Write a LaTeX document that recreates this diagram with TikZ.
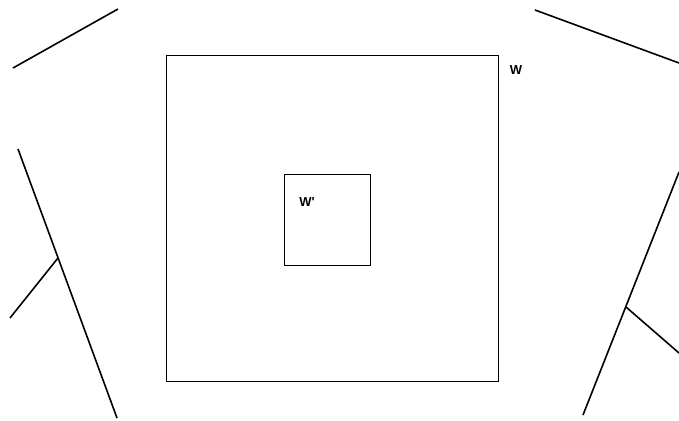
\documentclass[tikz,border=0pt]{standalone}
\usepackage{fontspec}
\setmainfont{Liberation Sans}
\usetikzlibrary{positioning}

\begin{document}
\begin{tikzpicture}[x=1pt, y=-1pt,
	wall/.style={line width=1.6pt, black},
	win/.style={draw, line width=0.8pt, black},
	lbl/.style={font=\fontsize{13}{15}\selectfont\bfseries, inner sep=0pt}]

		\useasboundingbox (0,0) rectangle (679,420);

		% outer and inner windows
		\draw[win] (166,55) coordinate (Wsw) rectangle (498,381) coordinate (Wne);
		\draw[win] (284,174) coordinate (Isw) rectangle (370,265) coordinate (Ine);
		\node[lbl] (W) at (516,70) {W};
		\node[lbl] (Wp) at (307,202) {W\textquotesingle};

		% lines outside
		\draw[wall] (13,68) -- (118,9);
		\draw[wall] (535,10) -- (679,63);

		% left line with branch
		\coordinate (L1) at (18,149);
		\coordinate (L2) at (117,418);
		\coordinate (Lb) at (58,258);
		\draw[wall] (L1) -- (L2);
		\draw[wall] (Lb) -- (10,318);

		% right line with branch
		\coordinate (R1) at (679,172);
		\coordinate (R2) at (583,415);
		\coordinate (Rb) at (626,307);
		\draw[wall] (R1) -- (R2);
		\draw[wall] (Rb) -- (679,353);

\end{tikzpicture}
\end{document}
